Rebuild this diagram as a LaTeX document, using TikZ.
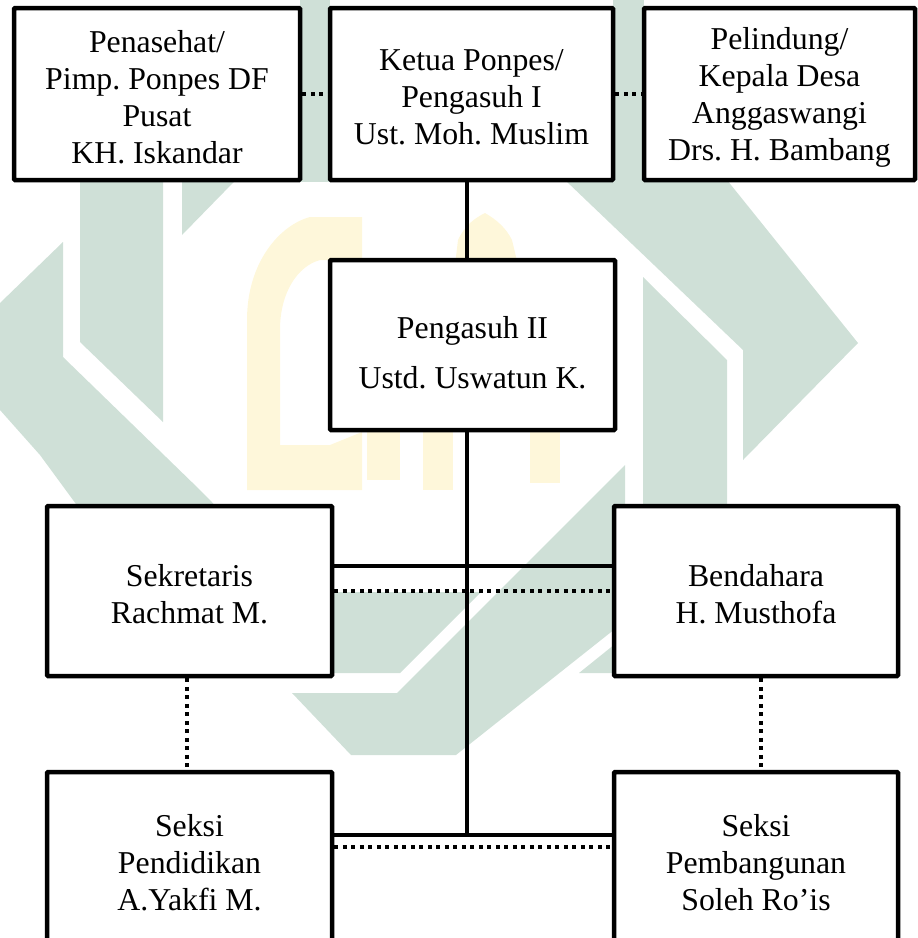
\documentclass[tikz,border=0pt]{standalone}
\usepackage{fontspec}
\setmainfont{Liberation Serif}
\definecolor{wmteal}{RGB}{207,224,215}
\definecolor{wmyellow}{RGB}{254,247,218}
\begin{document}
\frenchspacing
\begin{tikzpicture}[x=1pt,y=-1pt,
  box/.style={draw=black, line width=4.5pt, fill=white, minimum height=170pt,
    inner sep=0pt, rounded corners=1pt},
  txt/.style={align=center, inner sep=0pt, font=\fontsize{31.8}{37}\selectfont},
  solidcon/.style={line width=3.5pt},
  dotcon/.style={line width=4pt, dash pattern=on 4pt off 4.5pt}]
\useasboundingbox (0,0) rectangle (918,938);
\clip (0,0) rectangle (918,938);
% watermark (teal)
\fill[wmteal] (300,0) rectangle (330,182);
\fill[wmteal] (613,0) rectangle (644,182);
\fill[wmteal] (80,150) -- (163,150) -- (163,422) -- (80,342) -- cycle;
\fill[wmteal] (182,150) -- (265,150) -- (182,235) -- cycle;
\fill[wmteal] (0,303) -- (63,242) -- (63,357) -- (200,490) -- (300,592) -- (481,592)
  -- (400,673) -- (200,673) -- (40,455) -- (0,410) -- cycle;
\fill[wmteal] (292,693) -- (397,693) -- (625,465) -- (625,621) -- (456,755) -- (351,755) -- cycle;
\fill[wmteal] (579,673) -- (625,673) -- (625,636) -- cycle;
\fill[wmteal] (565,180) -- (727,180) -- (858,343) -- (743,460) -- (743,350) -- cycle;
\fill[wmteal] (643,277) -- (727,360) -- (727,506) -- (643,506) -- cycle;
% watermark (yellow)
\fill[wmyellow, even odd rule] (247,490) -- (247,320) .. controls (247,262) and (280,225) .. (310,217)
  -- (362,217) -- (362,490) -- cycle
  (280,445) -- (280,330) .. controls (280,292) and (298,266) .. (320,260) -- (362,260) -- (362,432) -- (330,445) -- cycle;
\fill[wmyellow] (455,265) -- (458,240) .. controls (465,225) and (475,218) .. (485,213)
  .. controls (497,220) and (506,228) .. (512,240) -- (518,265) -- cycle;
\fill[wmyellow] (367,430) rectangle (400,480);
\fill[wmyellow] (423,430) rectangle (453,490);
\fill[wmyellow] (530,430) rectangle (560,483);
% boxes
\node[box, minimum width=286pt, minimum height=172pt] (pen) at (157,94) {};
\node[box, minimum width=283pt, minimum height=172pt] (ketua) at (471.5,94) {};
\node[box, minimum width=271pt, minimum height=172pt] (pel) at (779.5,94) {};
\node[box, minimum width=285pt] (peng) at (472.5,345) {};
\node[box, minimum width=285pt] (sek) at (189.5,591) {};
\node[box, minimum width=284pt] (bend) at (756,591) {};
\node[box, minimum width=285pt] (pend) at (189.5,857) {};
\node[box, minimum width=284pt] (pemb) at (756,857) {};
% texts
\node[txt] (pen-t) at ([yshift=-3pt]pen.center) {Penasehat/\\Pimp. Ponpes DF\\Pusat\\KH. Iskandar};
\node[txt] (ketua-t) at ([yshift=-3pt]ketua.center) {Ketua Ponpes/\\Pengasuh I\\Ust. Moh. Muslim};
\node[txt] (pel-t) at ([yshift=-3pt]pel.center) {Pelindung/\\Kepala Desa\\Anggaswangi\\Drs. H. Bambang};
\node[txt] (peng-t) at ([yshift=-8pt]peng.center) {Pengasuh II\\[13pt]Ustd. Uswatun K.};
\node[txt] (sek-t) at ([yshift=-3pt]sek.center) {Sekretaris\\Rachmat M.};
\node[txt] (bend-t) at ([yshift=-3pt]bend.center) {Bendahara\\H. Musthofa};
\node[txt] (pend-t) at ([yshift=-6pt]pend.center) {Seksi\\Pendidikan\\A.Yakfi M.};
\node[txt] (pemb-t) at ([yshift=-6pt]pemb.center) {Seksi\\Pembangunan\\Soleh Ro'is};
% connectors
\coordinate (spine) at (467,0);
\path ([yshift=22pt]pend.east) coordinate (botL);
\draw[dotcon] (pen.east) -- (ketua.west);
\draw[dotcon] (ketua.east) -- (pel.west);
\draw[solidcon] (ketua.south -| spine) -- (peng.north -| spine);
\draw[solidcon] (peng.south -| spine) -- (botL -| spine);
\draw[solidcon] ([yshift=25pt]sek.east) -- ([yshift=25pt]bend.west);
\draw[dotcon] (sek.east) -- (bend.west);
\draw[solidcon] (botL) -- ([yshift=22pt]pemb.west);
\draw[dotcon] ([yshift=10pt]pend.east) -- ([yshift=10pt]pemb.west);
\draw[dotcon] ([xshift=-2.5pt]sek.south) -- ([xshift=-2.5pt]pend.north);
\draw[dotcon] ([xshift=5pt]bend.south) -- ([xshift=5pt]pemb.north);
\end{tikzpicture}
\end{document}
